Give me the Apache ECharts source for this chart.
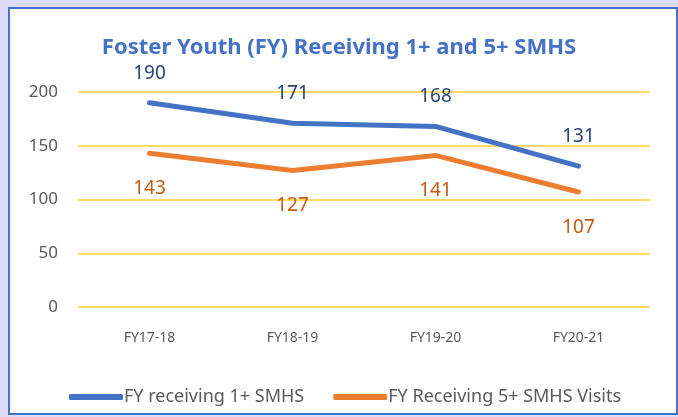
<!DOCTYPE html>
<html>
<head>
<meta charset="utf-8">
<script src="https://cdn.jsdelivr.net/npm/echarts@6/dist/echarts.min.js"></script>
<style>
  html, body { margin: 0; padding: 0; background: #dcdcfa; }
  #root { width: 678px; height: 417px; }
</style>
</head>
<body>
<div id="root"></div>
<script>
var categories = ['FY17-18', 'FY18-19', 'FY19-20', 'FY20-21'];
var oneVisit = [190, 171, 168, 131];
var fiveVisits = [143, 127, 141, 107];
var yTicks = [0, 50, 100, 150, 200];

var root = document.getElementById('root');
var myChart = echarts.init(root);
var font = '"Noto Sans", sans-serif';

var option = {
    backgroundColor: '#dcdcfa',
    animation: false,
    graphic: [{
        type: 'rect',
        shape: { x: 9, y: 8, width: 668, height: 406 },
        style: { fill: '#ffffff', stroke: '#4472c4', lineWidth: 2 },
        z: -10
    }],
    title: {
        text: 'Foster Youth (FY) Receiving 1+ and 5+ SMHS',
        left: 'center',
        top: 32,
        textStyle: { color: '#4472c4', fontSize: 22, fontWeight: 'bold', fontFamily: font }
    },
    legend: {
        left: 64,
        top: 383,
        itemWidth: 54,
        itemHeight: 6,
        itemGap: 29,
        icon: 'roundRect',
        textStyle: { color: '#595959', fontSize: 18, fontFamily: font, padding: [0, 0, 0, -4] },
        data: ['FY receiving 1+ SMHS', 'FY Receiving 5+ SMHS Visits']
    },
    grid: { left: 78, right: 28, top: 92, bottom: 110 },
    xAxis: {
        type: 'category',
        data: categories,
        axisLine: { show: false },
        axisTick: { show: false },
        axisLabel: { color: '#595959', fontSize: 14, fontFamily: font, margin: 24 }
    },
    yAxis: {
        type: 'value',
        min: yTicks[0],
        max: yTicks[yTicks.length - 1],
        interval: 50,
        axisLabel: { color: '#595959', fontSize: 17, fontFamily: font, margin: 20 },
        splitLine: { lineStyle: { color: '#ffd966', width: 2 } }
    },
    series: [
        {
            name: 'FY receiving 1+ SMHS',
            type: 'line',
            data: oneVisit,
            symbol: 'circle',
            symbolSize: 0,
            color: '#4472c4',
            lineStyle: { width: 5, cap: 'round' },
            label: { show: true, position: 'top', distance: 20, color: '#264478', fontSize: 19, fontFamily: font }
        },
        {
            name: 'FY Receiving 5+ SMHS Visits',
            type: 'line',
            data: fiveVisits,
            symbol: 'circle',
            symbolSize: 0,
            color: '#ed7d31',
            lineStyle: { width: 5, cap: 'round' },
            label: { show: true, position: 'bottom', distance: 26, color: '#c55a11', fontSize: 19, fontFamily: font }
        }
    ]
};
myChart.setOption(option);
</script>
</body>
</html>
